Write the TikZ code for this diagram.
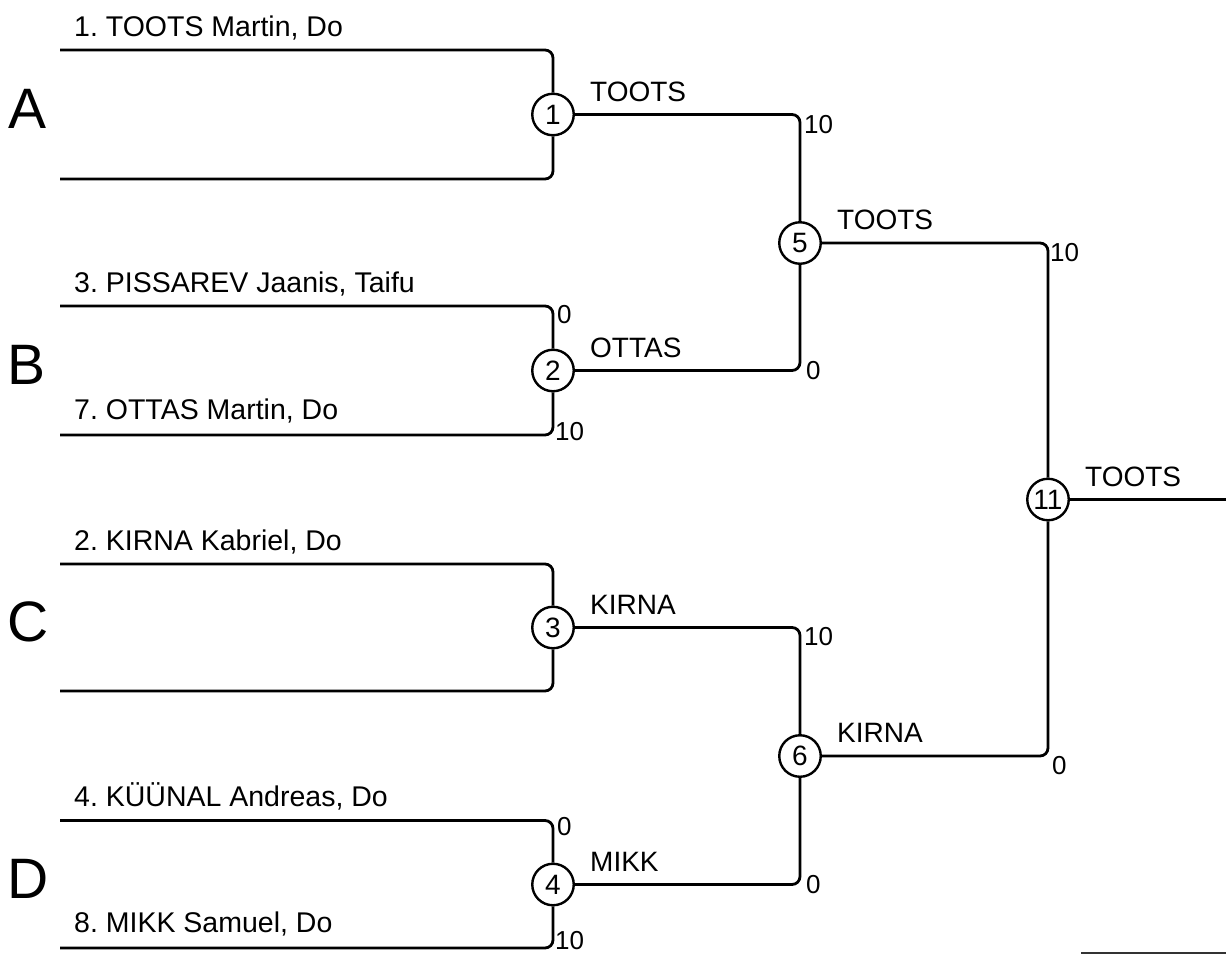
\documentclass[tikz,border=0pt]{standalone}
\usepackage{fontspec}
\setmainfont{Liberation Sans}
\frenchspacing
\begin{document}
\begin{tikzpicture}[x=1pt,y=-1pt,
  wire/.style={line width=2.8pt, rounded corners=8pt},
  match/.style={circle, draw, line width=2.4pt, minimum size=41.5pt, inner sep=0pt, fill=white, font=\fontsize{28}{28}\selectfont},
  pname/.style={anchor=base west, inner sep=0pt, font=\fontsize{28.5}{28.5}\selectfont},
  winner/.style={anchor=base west, inner sep=0pt, font=\fontsize{28}{28}\selectfont},
  score/.style={anchor=base west, inner sep=0pt, font=\fontsize{26}{26}\selectfont},
  group/.style={anchor=base west, inner sep=0pt, font=\fontsize{57}{57}\selectfont},
  thin/.style={line width=1.7pt, draw=black!80}]
\useasboundingbox (0,0) rectangle (1226,954);

% match nodes
\node[match] (n1) at (553,114.5) {1};
\node[match] (n2) at (553,370.5) {2};
\node[match] (n3) at (553,627.5) {3};
\node[match] (n4) at (553,884.5) {4};
\node[match] (n5) at (800,243) {5};
\node[match] (n6) at (800,756) {6};
\node[match] (n11) at (1048,499.5) {11};

% line starts
\coordinate (a1) at (60,50);
\coordinate (a2) at (60,179);
\coordinate (b1) at (60,306);
\coordinate (b2) at (60,435);
\coordinate (c1) at (60,564);
\coordinate (c2) at (60,691);
\coordinate (d1) at (60,820.5);
\coordinate (d2) at (60,948);
\coordinate (fin) at (1226,499.5);
\coordinate (g1) at (1081,953);
\coordinate (g2) at (1226,953);

% connectors
\draw[wire] (a1) -| (n1);
\draw[wire] (a2) -| (n1);
\draw[wire] (b1) -| (n2);
\draw[wire] (b2) -| (n2);
\draw[wire] (c1) -| (n3);
\draw[wire] (c2) -| (n3);
\draw[wire] (d1) -| (n4);
\draw[wire] (d2) -| (n4);
\draw[wire] (n1) -| (n5);
\draw[wire] (n2) -| (n5);
\draw[wire] (n3) -| (n6);
\draw[wire] (n4) -| (n6);
\draw[wire] (n5) -| (n11);
\draw[wire] (n6) -| (n11);
\draw[wire] (n11) -- (fin);
\draw[thin] (g1) -- (g2);

% group letters
\node[group] (gA) at (8,128) {A};
\node[group] (gB) at (7,384) {B};
\node[group] (gC) at (7,641) {C};
\node[group] (gD) at (7,898) {D};

% player names
\node[pname] (p1) at (74,36) {1. TOOTS Martin, Do};
\node[pname] (p3) at (74,292) {3. PISSAREV Jaanis, Taifu};
\node[pname] (p7) at (74,419) {7. OTTAS Martin, Do};
\node[pname] (p2) at (74,550) {2. KIRNA Kabriel, Do};
\node[pname] (p4) at (74,806.5) {4. KÜÜNAL Andreas, Do};
\node[pname] (p8) at (74,932) {8. MIKK Samuel, Do};

% winners
\node[winner] (w1) at (590,101) {TOOTS};
\node[winner] (w2) at (590,357) {OTTAS};
\node[winner] (w3) at (590,614) {KIRNA};
\node[winner] (w4) at (590,871) {MIKK};
\node[winner] (w5) at (837,229.5) {TOOTS};
\node[winner] (w6) at (837,742.5) {KIRNA};
\node[winner] (w11) at (1085,486) {TOOTS};

% scores
\node[score] (s5a) at (804,133) {10};
\node[score] (s5b) at (806,379) {0};
\node[score] (sBa) at (557,323) {0};
\node[score] (sBb) at (555,440) {10};
\node[score] (s11a) at (1050,261) {10};
\node[score] (s11b) at (1052,774) {0};
\node[score] (s6a) at (804,645) {10};
\node[score] (s6b) at (806,893) {0};
\node[score] (sDa) at (557,835) {0};
\node[score] (sDb) at (555,949) {10};
\end{tikzpicture}
\end{document}
